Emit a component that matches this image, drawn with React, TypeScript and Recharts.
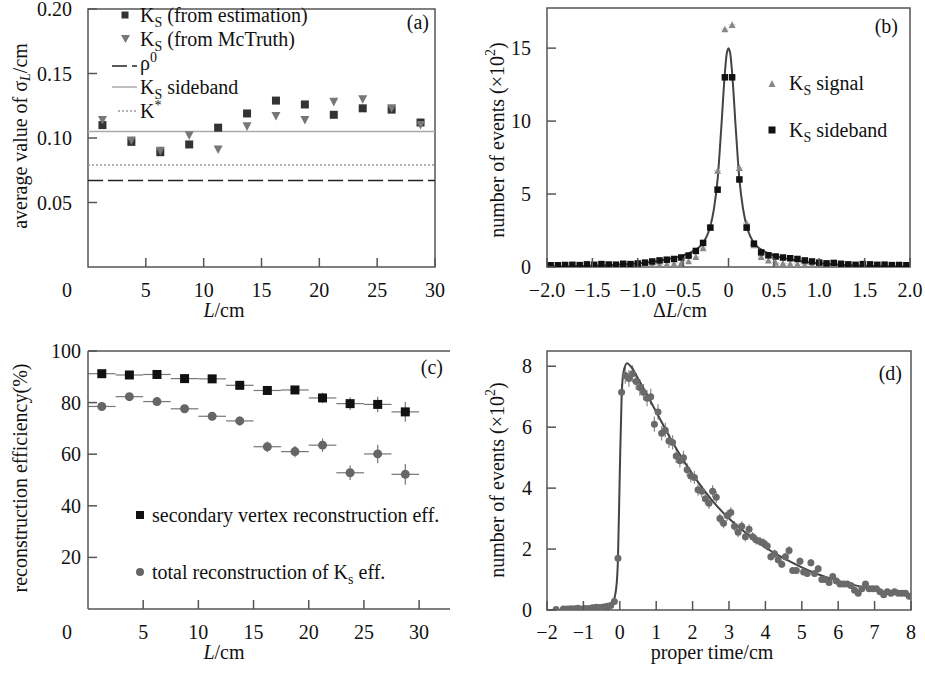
import React from 'react';
import {
    ComposedChart,
    XAxis,
    YAxis,
    Scatter,
    Line,
    ReferenceLine,
    ReferenceArea,
    ErrorBar,
    Legend,
    Label
} from 'recharts';

// ---- (a) average sigma_L per L bin ----
const lBins = [1.25, 3.75, 6.25, 8.75, 11.25, 13.75, 16.25, 18.75, 21.25, 23.75, 26.25, 28.75];
const sigmaEstimated = [0.110, 0.097, 0.089, 0.095, 0.108, 0.119, 0.129, 0.126, 0.118, 0.123, 0.122, 0.112];
const sigmaMcTruth = [0.114, 0.098, 0.090, 0.102, 0.091, 0.109, 0.117, 0.114, 0.128, 0.130, 0.123, 0.110];
const rhoLevel = 0.067;
const sidebandLevel = 0.105;
const kStarLevel = 0.079;
const aXTicks = [0, 5, 10, 15, 20, 25, 30];
const aYTicks = [0.05, 0.1, 0.15, 0.2];

// ---- (b) delta L distribution ----
const dlCenters = [
    -1.96, -1.88, -1.80, -1.72, -1.64, -1.56, -1.48, -1.40, -1.32, -1.24,
    -1.16, -1.08, -1.00, -0.92, -0.84, -0.76, -0.68, -0.60, -0.52, -0.44,
    -0.36, -0.28, -0.20, -0.12, -0.04, 0.04, 0.12, 0.20, 0.28, 0.36,
    0.44, 0.52, 0.60, 0.68, 0.76, 0.84, 0.92, 1.00, 1.08, 1.16,
    1.24, 1.32, 1.40, 1.48, 1.56, 1.64, 1.72, 1.80, 1.88, 1.96
];
const dlSignal = [
    0.05, 0.04, 0.05, 0.06, 0.05, 0.05, 0.06, 0.05, 0.06, 0.07,
    0.06, 0.08, 0.10, 0.12, 0.15, 0.18, 0.20, 0.22, 0.28, 0.40,
    0.70, 1.30, 2.80, 6.60, 16.3, 16.6, 6.80, 3.00, 1.50, 0.70,
    0.45, 0.30, 0.25, 0.22, 0.20, 0.18, 0.15, 0.12, 0.10, 0.08,
    0.07, 0.06, 0.06, 0.05, 0.05, 0.06, 0.05, 0.05, 0.04, 0.05
];
const dlSideband = [
    0.12, 0.12, 0.14, 0.15, 0.13, 0.18, 0.15, 0.20, 0.17, 0.16,
    0.22, 0.20, 0.24, 0.30, 0.38, 0.45, 0.50, 0.55, 0.65, 0.78,
    1.10, 1.65, 2.70, 5.30, 13.0, 13.0, 6.00, 2.70, 1.60, 1.00,
    0.80, 0.72, 0.65, 0.60, 0.55, 0.45, 0.38, 0.30, 0.25, 0.28,
    0.22, 0.18, 0.15, 0.20, 0.18, 0.15, 0.16, 0.13, 0.14, 0.12
];
const dlFitX = [-2, -1.5, -1.0, -0.75, -0.5, -0.4, -0.3, -0.24, -0.2, -0.16, -0.12, -0.08, -0.04, -0.02, 0,
    0.02, 0.04, 0.08, 0.12, 0.16, 0.2, 0.24, 0.3, 0.4, 0.5, 0.75, 1.0, 1.5, 2];
const dlFitY = [0.03, 0.08, 0.25, 0.45, 0.8, 1.05, 1.5, 2.1, 2.8, 4.0, 6.0, 9.5, 13.3, 14.6, 15.0,
    14.6, 13.3, 9.5, 6.0, 4.0, 2.8, 2.1, 1.5, 1.05, 0.8, 0.45, 0.25, 0.08, 0.03];
const bXTicks = [-2, -1.5, -1, -0.5, 0, 0.5, 1, 1.5, 2];
const bYTicks = [0, 5, 10, 15];

// ---- (c) reconstruction efficiency ----
const binHalfWidth = 1.25;
const effVertex = [91.2, 90.7, 90.9, 89.3, 89.2, 86.7, 84.7, 84.9, 81.8, 79.6, 79.3, 76.4];
const effVertexErr = [0.8, 0.8, 0.9, 1.0, 1.0, 1.2, 1.3, 1.5, 2.0, 2.5, 3.0, 3.8];
const effTotal = [78.5, 82.3, 80.4, 77.6, 74.7, 72.9, 62.9, 61.0, 63.5, 52.8, 60.1, 52.2];
const effTotalErr = [0.8, 0.9, 1.0, 1.2, 1.6, 1.8, 2.0, 2.2, 2.6, 2.8, 3.6, 4.0];
const cXTicks = [0, 5, 10, 15, 20, 25, 30];
const cYTicks = [20, 40, 60, 80, 100];

// ---- (d) proper time ----
const tCenters = [
    -1.95, -1.85, -1.75, -1.65, -1.55, -1.45, -1.35, -1.25, -1.15, -1.05,
    -0.95, -0.85, -0.75, -0.65, -0.55, -0.45, -0.35, -0.25, -0.15, -0.05,
    0.05, 0.15, 0.25, 0.35, 0.45, 0.55, 0.65, 0.75, 0.85, 0.95,
    1.05, 1.15, 1.25, 1.35, 1.45, 1.55, 1.65, 1.75, 1.85, 1.95,
    2.05, 2.15, 2.25, 2.35, 2.45, 2.55, 2.65, 2.75, 2.85, 2.95,
    3.05, 3.15, 3.25, 3.35, 3.45, 3.55, 3.65, 3.75, 3.85, 3.95,
    4.05, 4.15, 4.25, 4.35, 4.45, 4.55, 4.65, 4.75, 4.85, 4.95,
    5.05, 5.15, 5.25, 5.35, 5.45, 5.55, 5.65, 5.75, 5.85, 5.95,
    6.05, 6.15, 6.25, 6.35, 6.45, 6.55, 6.65, 6.75, 6.85, 6.95,
    7.05, 7.15, 7.25, 7.35, 7.45, 7.55, 7.65, 7.75, 7.85, 7.95
];
const tEvents: (number | null)[] = [
    null, null, 0.02, null, 0.03, 0.03, 0.04, 0.04, 0.06, 0.03,
    0.05, 0.05, 0.07, 0.09, 0.08, 0.10, 0.12, 0.15, 0.28, 1.70,
    7.15, 7.70, 7.60, 7.75, 7.50, 7.30, 7.15, 6.95, 7.00, 6.10,
    6.50, 5.80, 5.90, 5.55, 5.50, 5.05, 4.90, 5.00, 4.60, 4.40,
    4.35, 3.95, 3.90, 3.65, 3.50, 3.90, 3.70, 3.00, 2.85, 3.10,
    3.20, 2.75, 2.55, 2.75, 2.40, 2.65, 2.40, 2.30, 2.25, 2.20,
    2.10, 1.75, 1.85, 1.65, 1.50, 1.75, 1.95, 1.30, 1.30, 1.60,
    1.25, 1.20, 1.55, 1.20, 1.35, 1.00, 1.00, 0.90, 1.10, 0.95,
    0.85, 0.85, 0.85, 0.80, 0.65, 0.55, 0.70, 0.85, 0.70, 0.70,
    0.70, 0.60, 0.50, 0.60, 0.55, 0.60, 0.55, 0.55, 0.55, 0.45
];
const tFitX = [-2, -0.5, -0.3, -0.2, -0.1, -0.05, 0, 0.05, 0.1, 0.2, 0.3, 0.5, 1.0, 1.5, 2.0, 2.5,
    3.0, 3.5, 4.0, 4.5, 5.0, 5.5, 6.0, 6.5, 7.0, 7.5, 8.0];
const tFitY = [0, 0, 0.05, 0.2, 0.7, 1.7, 4.5, 7.0, 7.8, 8.1, 8.0, 7.6, 6.5, 5.4, 4.45, 3.65,
    3.0, 2.5, 2.05, 1.7, 1.4, 1.15, 0.95, 0.8, 0.66, 0.55, 0.45];
const dXTicks = [-2, -1, 0, 1, 2, 3, 4, 5, 6, 7, 8];
const dYTicks = [0, 2, 4, 6, 8];

const FONT = '"Liberation Serif", "Times New Roman", Times, serif';
const AXIS = '#555';
const INK = '#111';
const TICK_LEN = 9;

const minus = (s: string) => s.replace('-', '\u2212');

// inward tick marks: label sits `gap` px away from the axis line
const makeYTick = (gap: number, fmt: (v: number) => string) => (props: any) => {
    const { x, y, payload } = props;
    const ax = x + gap;
    return (
        <g>
            <line x1={ax} x2={ax + TICK_LEN} y1={y} y2={y} stroke={AXIS} strokeWidth={1.5} />
            <text x={x} y={y} textAnchor="end" dominantBaseline="central" fontFamily={FONT} fontSize={20} fill={INK}>
                {fmt(payload.value)}
            </text>
        </g>
    );
};

const makeXTick = (gap: number, fmt: (v: number) => string, zeroShift = 0) => (props: any) => {
    const { x, y, payload } = props;
    const ay = y - gap;
    const shifted = payload.value === 0 && zeroShift !== 0;
    return (
        <g>
            {!shifted && <line x1={x} x2={x} y1={ay} y2={ay - TICK_LEN} stroke={AXIS} strokeWidth={1.5} />}
            <text x={x - (shifted ? zeroShift : 0)} y={y} textAnchor="middle" dominantBaseline="central" fontFamily={FONT} fontSize={20} fill={INK}>
                {fmt(payload.value)}
            </text>
        </g>
    );
};

const squareShape = (size: number, fill: string) => (p: any) => (
    <rect x={p.cx - size / 2} y={p.cy - size / 2} width={size} height={size} fill={fill} />
);
const triDownShape = (s: number, fill: string) => (p: any) => (
    <polygon points={`${p.cx - s / 2},${p.cy - s * 0.45} ${p.cx + s / 2},${p.cy - s * 0.45} ${p.cx},${p.cy + s * 0.5}`} fill={fill} />
);
const triUpShape = (s: number, fill: string) => (p: any) => (
    <polygon points={`${p.cx - s / 2},${p.cy + s * 0.45} ${p.cx + s / 2},${p.cy + s * 0.45} ${p.cx},${p.cy - s * 0.5}`} fill={fill} />
);
const circleShape = (r: number, fill: string) => (p: any) => (
    <circle cx={p.cx} cy={p.cy} r={r} fill={fill} />
);

const svgText = { fontFamily: FONT, fontSize: 20, fill: INK };
const sub = { fontSize: 14, position: 'relative' as const, top: 5 };
const sup = { fontSize: 14, position: 'relative' as const, top: -8 };
const legendText: React.CSSProperties = { fontFamily: FONT, fontSize: 20, color: INK, whiteSpace: 'nowrap' };

const LegendA = () => (
    <div style={legendText}>
        <div style={{ display: 'flex', alignItems: 'center', height: 24 }}>
            <svg width={30} height={24}><rect x={11.5} y={8.5} width={7} height={7} fill="#333" /></svg>
            <span>K<span style={sub}>S</span> (from estimation)</span>
        </div>
        <div style={{ display: 'flex', alignItems: 'center', height: 24 }}>
            <svg width={30} height={24}><polygon points="11,8 20,8 15.5,16" fill="#777" /></svg>
            <span>K<span style={sub}>S</span> (from McTruth)</span>
        </div>
        <div style={{ display: 'flex', alignItems: 'center', height: 24 }}>
            <svg width={30} height={24}><line x1={2} x2={27} y1={15} y2={15} stroke="#222" strokeWidth={1.5} strokeDasharray="15 5" /></svg>
            <span>ρ<span style={sup}>0</span></span>
        </div>
        <div style={{ display: 'flex', alignItems: 'center', height: 24 }}>
            <svg width={30} height={24}><line x1={2} x2={27} y1={12} y2={12} stroke="#aaa" strokeWidth={1.5} /></svg>
            <span>K<span style={sub}>S</span> sideband</span>
        </div>
        <div style={{ display: 'flex', alignItems: 'center', height: 24 }}>
            <svg width={30} height={24}><line x1={8} x2={27} y1={12} y2={12} stroke="#999" strokeWidth={1.5} strokeDasharray="2 2" /></svg>
            <span>K<span style={sup}>*</span></span>
        </div>
    </div>
);

const LegendB = () => (
    <div style={legendText}>
        <div style={{ display: 'flex', alignItems: 'center', height: 30, marginBottom: 17 }}>
            <svg width={32} height={30}><polygon points="11.5,19 18.5,19 15,12" fill="#888" /></svg>
            <span>K<span style={sub}>S</span> signal</span>
        </div>
        <div style={{ display: 'flex', alignItems: 'center', height: 30 }}>
            <svg width={32} height={30}><rect x={11.5} y={11.5} width={7} height={7} fill="#111" /></svg>
            <span>K<span style={sub}>S</span> sideband</span>
        </div>
    </div>
);

const LegendC = () => (
    <div style={legendText}>
        <div style={{ display: 'flex', alignItems: 'center', height: 30, marginBottom: 27 }}>
            <svg width={24} height={30}><rect x={8} y={11} width={8} height={8} fill="#111" /></svg>
            <span>secondary vertex reconstruction eff.</span>
        </div>
        <div style={{ display: 'flex', alignItems: 'center', height: 30 }}>
            <svg width={24} height={30}><circle cx={12} cy={15} r={4} fill="#666" /></svg>
            <span>total reconstruction of K<span style={sub}>s</span> eff.</span>
        </div>
    </div>
);

const ChartA = () => {
    const est = lBins.map((x, i) => ({ x, y: sigmaEstimated[i] }));
    const mc = lBins.map((x, i) => ({ x, y: sigmaMcTruth[i] }));
    return (
        <ComposedChart width={462} height={330} margin={{ top: 9, right: 27, bottom: 0, left: 0 }}>
            <XAxis type="number" dataKey="x" domain={[0, 30]} ticks={aXTicks} height={63} tickSize={0} tickMargin={23}
                tick={makeXTick(23, v => String(v), 21)} axisLine={false} interval={0}>
                <Label content={() => (
                    <text x={224} y={310} textAnchor="middle" dominantBaseline="central" {...svgText}>
                        <tspan fontStyle="italic">L</tspan>/cm
                    </text>
                )} />
                <Label content={() => (
                    <text x={429} y={22} textAnchor="end" dominantBaseline="central" {...svgText}>(a)</text>
                )} />
            </XAxis>
            <YAxis type="number" dataKey="y" domain={[0, 0.2]} ticks={aYTicks} width={88} tickSize={0} tickMargin={16}
                tick={makeYTick(16, v => v.toFixed(2))} axisLine={false} interval={0}>
                <Label content={() => (
                    <text transform="rotate(-90)" x={-136} y={20} textAnchor="middle" dominantBaseline="central" {...svgText}>
                        average value of σ<tspan dy={5} fontSize={14} fontStyle="italic">L</tspan><tspan dy={-5}>/cm</tspan>
                    </text>
                )} />
            </YAxis>
            <ReferenceArea x1={0} x2={30} y1={0} y2={0.2} fill="none" stroke={AXIS} strokeWidth={1.5} />
            <ReferenceLine y={sidebandLevel} stroke="#aaa" strokeWidth={1.5} />
            <ReferenceLine y={kStarLevel} stroke="#999" strokeWidth={1.5} strokeDasharray="2 2" />
            <ReferenceLine y={rhoLevel} stroke="#222" strokeWidth={1.5} strokeDasharray="15 5" />
            <Scatter data={est} dataKey="y" shape={squareShape(8, '#333')} isAnimationActive={false} />
            <Scatter data={mc} dataKey="y" shape={triDownShape(9, '#777')} isAnimationActive={false} />
            <Legend layout="vertical" verticalAlign="middle" align="center" content={() => <LegendA />}
                wrapperStyle={{ position: 'absolute', left: 110, top: 3, width: 'auto', height: 'auto' }} />
        </ComposedChart>
    );
};

const ChartB = () => {
    const signal = dlCenters.map((x, i) => ({ x, y: dlSignal[i], ex: 0.04 }));
    const side = dlCenters.map((x, i) => ({ x, y: dlSideband[i] }));
    const fit = dlFitX.map((x, i) => ({ x, y: dlFitY[i] }));
    const fmt = (v: number) => (v === 0 ? '0' : minus(v.toFixed(1)));
    return (
        <ComposedChart width={463} height={330} margin={{ top: 8, right: 15, bottom: 0, left: 0 }}>
            <XAxis type="number" dataKey="x" domain={[-2, 2]} ticks={bXTicks} height={63} tickSize={0} tickMargin={23}
                tick={makeXTick(23, fmt)} axisLine={false} interval={0} allowDataOverflow>
                <Label content={() => (
                    <text x={218} y={310} textAnchor="middle" dominantBaseline="central" {...svgText}>
                        Δ<tspan fontStyle="italic">L</tspan>/cm
                    </text>
                )} />
                <Label content={() => (
                    <text x={436} y={26} textAnchor="end" dominantBaseline="central" {...svgText}>(b)</text>
                )} />
            </XAxis>
            <YAxis type="number" dataKey="y" domain={[0, 17.75]} ticks={bYTicks} width={85} tickSize={0} tickMargin={16}
                tick={makeYTick(16, v => String(v))} axisLine={false} interval={0} allowDataOverflow>
                <Label content={() => (
                    <text transform="rotate(-90)" x={-140} y={35} textAnchor="middle" dominantBaseline="central" {...svgText}>
                        number of events  (×10<tspan dy={-7} fontSize={14}>2</tspan><tspan dy={7}>)</tspan>
                    </text>
                )} />
            </YAxis>
            <ReferenceArea x1={-2} x2={2} y1={0} y2={17.75} fill="none" stroke={AXIS} strokeWidth={1.5} />
            <Scatter data={signal} dataKey="y" shape={triUpShape(7, '#888')} isAnimationActive={false}>
                <ErrorBar dataKey="ex" direction="x" width={0} stroke="#bbb" strokeWidth={1} strokeDasharray="1 1" />
            </Scatter>
            <Line data={fit} dataKey="y" type="monotone" stroke="#444" strokeWidth={2} dot={false} activeDot={false} isAnimationActive={false} />
            <Scatter data={side} dataKey="y" shape={squareShape(6.5, '#111')} isAnimationActive={false} />
            <Legend layout="vertical" verticalAlign="middle" align="center" content={() => <LegendB />}
                wrapperStyle={{ position: 'absolute', left: 295, top: 68, width: 'auto', height: 'auto' }} />
        </ComposedChart>
    );
};

const ChartC = () => {
    const vtx = lBins.map((x, i) => ({ x, y: effVertex[i], ex: binHalfWidth, ey: effVertexErr[i] }));
    const tot = lBins.map((x, i) => ({ x, y: effTotal[i], ex: binHalfWidth, ey: effTotalErr[i] }));
    return (
        <ComposedChart width={462} height={344} margin={{ top: 21, right: 12, bottom: 0, left: 0 }}>
            <XAxis type="number" dataKey="x" domain={[0, 32.8]} ticks={cXTicks} height={65} tickSize={0} tickMargin={23}
                tick={makeXTick(23, v => String(v), 21)} axisLine={{ stroke: AXIS, strokeWidth: 1.5 }} interval={0} allowDataOverflow>
                <Label content={() => (
                    <text x={224} y={322} textAnchor="middle" dominantBaseline="central" {...svgText}>
                        <tspan fontStyle="italic">L</tspan>/cm
                    </text>
                )} />
                <Label content={() => (
                    <text x={443} y={37} textAnchor="end" dominantBaseline="central" {...svgText}>(c)</text>
                )} />
            </XAxis>
            <YAxis type="number" dataKey="y" domain={[0, 100]} ticks={cYTicks} width={88} tickSize={0} tickMargin={7}
                tick={makeYTick(7, v => String(v))} axisLine={{ stroke: AXIS, strokeWidth: 1.5 }} interval={0}>
                <Label content={() => (
                    <text transform="rotate(-90)" x={-148} y={20} textAnchor="middle" dominantBaseline="central" {...svgText}>
                        reconstruction efficiency(%)
                    </text>
                )} />
            </YAxis>
            <ReferenceLine y={100} stroke={AXIS} strokeWidth={1.5} />
            <Scatter data={tot} dataKey="y" shape={circleShape(4.5, '#666')} isAnimationActive={false}>
                <ErrorBar dataKey="ex" direction="x" width={0} stroke="#777" strokeWidth={1.2} />
                <ErrorBar dataKey="ey" direction="y" width={0} stroke="#777" strokeWidth={1.2} />
            </Scatter>
            <Scatter data={vtx} dataKey="y" shape={squareShape(9, '#111')} isAnimationActive={false}>
                <ErrorBar dataKey="ex" direction="x" width={0} stroke="#777" strokeWidth={1.2} />
                <ErrorBar dataKey="ey" direction="y" width={0} stroke="#777" strokeWidth={1.2} />
            </Scatter>
            <Legend layout="vertical" verticalAlign="middle" align="center" content={() => <LegendC />}
                wrapperStyle={{ position: 'absolute', left: 128, top: 170, width: 'auto', height: 'auto' }} />
        </ComposedChart>
    );
};

const ChartD = () => {
    const pts = tCenters
        .map((x, i) => ({ x, v: tEvents[i] }))
        .filter(p => p.v !== null)
        .map(p => ({ x: p.x, y: p.v as number, ey: Math.sqrt((p.v as number) / 100) }));
    const fit = tFitX.map((x, i) => ({ x, y: tFitY[i] }));
    return (
        <ComposedChart width={463} height={344} margin={{ top: 21, right: 14, bottom: 0, left: 0 }}>
            <XAxis type="number" dataKey="x" domain={[-2, 8]} ticks={dXTicks} height={64} tickSize={0} tickMargin={22}
                tick={makeXTick(22, v => minus(String(v)))} axisLine={false} interval={0} allowDataOverflow>
                <Label content={() => (
                    <text x={250} y={322} textAnchor="middle" dominantBaseline="central" {...svgText}>proper time/cm</text>
                )} />
                <Label content={() => (
                    <text x={440} y={43} textAnchor="end" dominantBaseline="central" {...svgText}>(d)</text>
                )} />
            </XAxis>
            <YAxis type="number" dataKey="y" domain={[0, 8.5]} ticks={dYTicks} width={85} tickSize={0} tickMargin={15}
                tick={makeYTick(15, v => String(v))} axisLine={false} interval={0} allowDataOverflow>
                <Label content={() => (
                    <text transform="rotate(-90)" x={-150} y={35} textAnchor="middle" dominantBaseline="central" {...svgText}>
                        number of events  (×10<tspan dy={-7} fontSize={14}>2</tspan><tspan dy={7}>)</tspan>
                    </text>
                )} />
            </YAxis>
            <ReferenceArea x1={-2} x2={8} y1={0} y2={8.5} fill="none" stroke={AXIS} strokeWidth={1.5} />
            <Scatter data={pts} dataKey="y" shape={circleShape(3.5, '#6a6a6a')} isAnimationActive={false}>
                <ErrorBar dataKey="ey" direction="y" width={0} stroke="#888" strokeWidth={1.2} />
            </Scatter>
            <Line data={fit} dataKey="y" type="monotone" stroke="#444" strokeWidth={2} dot={false} activeDot={false} isAnimationActive={false} />
        </ComposedChart>
    );
};

export default function App() {
    return (
        <div style={{ position: 'absolute', left: 0, top: 0, width: 925, height: 674, background: '#fff', overflow: 'hidden' }}>
            <div style={{ position: 'absolute', left: 0, top: 0 }}><ChartA /></div>
            <div style={{ position: 'absolute', left: 462, top: 0 }}><ChartB /></div>
            <div style={{ position: 'absolute', left: 0, top: 330 }}><ChartC /></div>
            <div style={{ position: 'absolute', left: 462, top: 330 }}><ChartD /></div>
        </div>
    );
}
